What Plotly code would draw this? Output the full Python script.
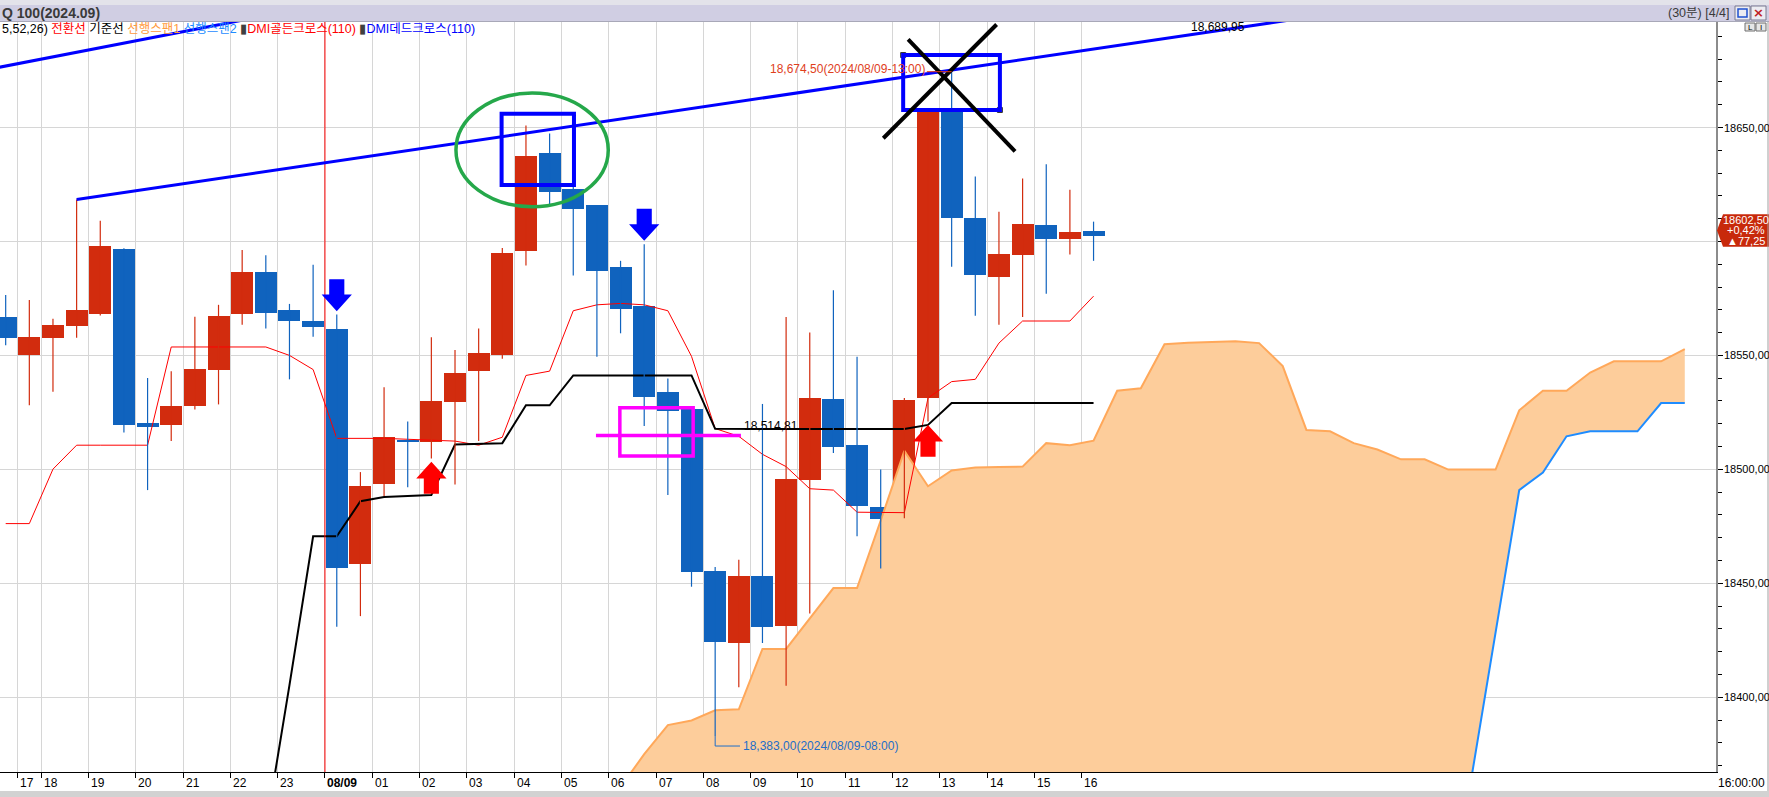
import plotly.graph_objects as go

# ---------------- data (30-minute candles, index 0 = 08/09 00:00) ----------------
candle_idx = list(range(-14, 33))
opens = [18566.8, 18550.0, 18557.7, 18563.1, 18568.3, 18596.7, 18520.3, 18519.3, 18527.6, 18543.8, 18568.3, 18586.6, 18569.8, 18565.1,
         18561.6, 18458.4, 18493.4, 18512.8, 18511.9, 18529.4, 18543.3, 18550.0, 18596.0, 18638.6, 18622.9, 18615.8, 18588.7, 18571.9, 18533.9, 18526.6, 18455.2,
         18423.8, 18453.4, 18431.3, 18495.2, 18530.9, 18510.9, 18483.6, 18478.6, 18531.1, 18657.5, 18610.2, 18584.6, 18594.1, 18607.2, 18601.2, 18604.4]
highs = [18576.5, 18574.3, 18566.1, 18618.4, 18609.1, 18597.0, 18540.1, 18543.1, 18567.0, 18572.2, 18596.2, 18593.9, 18572.6, 18589.8,
         18567.9, 18498.8, 18536.0, 18521.0, 18558.0, 18552.4, 18561.8, 18597.1, 18650.9, 18647.4, 18624.5, 18616.0, 18591.5, 18598.8, 18539.9, 18527.0, 18457.1,
         18460.3, 18528.7, 18566.8, 18560.0, 18578.6, 18549.4, 18499.9, 18531.3, 18658.0, 18674.5, 18628.5, 18613.0, 18627.6, 18633.9, 18622.7, 18608.7]
lows = [18554.5, 18528.1, 18534.1, 18557.7, 18567.5, 18516.2, 18490.9, 18512.4, 18526.3, 18528.5, 18563.5, 18561.8, 18539.5, 18558.2,
        18430.9, 18435.6, 18488.3, 18492.2, 18504.8, 18493.4, 18512.4, 18548.5, 18589.4, 18616.2, 18585.1, 18549.4, 18559.7, 18519.0, 18488.7, 18448.5, 18383.0,
        18404.4, 18423.8, 18405.1, 18436.7, 18507.2, 18470.6, 18456.5, 18478.6, 18521.0, 18588.9, 18567.4, 18563.5, 18566.8, 18577.1, 18594.3, 18591.5]
closes = [18557.7, 18558.0, 18563.3, 18569.8, 18598.0, 18519.3, 18518.8, 18527.9, 18544.0, 18567.2, 18586.6, 18568.5, 18565.3, 18562.3,
          18456.7, 18492.8, 18514.3, 18511.9, 18530.0, 18542.3, 18551.1, 18594.9, 18637.3, 18621.8, 18614.3, 18587.2, 18570.4, 18531.9, 18525.5, 18454.9, 18424.2,
          18453.4, 18430.9, 18495.8, 18531.3, 18509.6, 18483.8, 18478.2, 18530.4, 18656.7, 18610.4, 18585.5, 18594.3, 18607.6, 18601.2, 18604.0, 18602.5]

# Ichimoku lines
tenkan = [18476.2, 18476.2, 18500.1, 18510.6, 18510.6, 18510.6, 18510.6, 18553.7, 18553.7, 18553.7, 18553.7, 18553.7, 18550.0, 18543.8,
          18513.6, 18513.6, 18513.6, 18513.2, 18512.8, 18512.4, 18510.6, 18514.1, 18541.2, 18543.1, 18569.6, 18572.2, 18572.8, 18572.2, 18569.6, 18549.6, 18517.9,
          18514.5, 18506.6, 18501.2, 18491.5, 18490.9, 18481.2, 18481.2, 18481.0, 18531.3, 18538.5, 18539.5, 18555.4, 18565.1, 18565.1, 18565.1, 18576.0]
kijun = [18245.0, 18245.0, 18249.9, 18265.0, 18269.0, 18278.0, 18278.8, 18288.7, 18288.7, 18315.3, 18342.1, 18342.1, 18405.3, 18470.6,
         18470.6, 18486.0, 18487.9, 18488.3, 18488.7, 18510.9, 18511.3, 18511.5, 18528.1, 18528.1, 18541.2, 18541.2, 18541.2, 18541.2, 18541.2, 18541.2, 18517.8,
         18517.7, 18517.7, 18517.7, 18517.7, 18517.7, 18517.7, 18517.7, 18517.7, 18519.5, 18529.1, 18529.1, 18529.1, 18529.1, 18529.1, 18529.1, 18529.1]

span_idx = list(range(11, 58))
span1 = [18360.6, 18360.6, 18375.0, 18387.8, 18389.8, 18394.3, 18394.7, 18421.2, 18421.2, 18434.5, 18447.9, 18447.9, 18477.5, 18508.1,
         18492.6, 18499.5, 18500.8, 18501.0, 18501.2, 18511.5, 18510.6, 18512.6, 18534.5, 18535.6, 18554.9, 18555.6, 18556.0, 18556.2,
         18555.4, 18545.3, 18517.3, 18516.7, 18511.5, 18508.7, 18504.4, 18504.4, 18499.9, 18499.9, 18499.9, 18525.9, 18534.5, 18534.5,
         18542.5, 18547.4, 18547.4, 18547.4, 18552.8]
span2 = [18290.0, 18290.0, 18290.0, 18292.0, 18292.0, 18295.0, 18295.0, 18295.0, 18298.0, 18298.0, 18298.0, 18300.0, 18300.0, 18300.0,
         18300.0, 18300.0, 18302.0, 18302.0, 18302.0, 18302.0, 18305.0, 18305.0, 18305.0, 18305.0, 18305.0, 18305.0, 18305.0, 18305.0,
         18305.0, 18305.0, 18305.0, 18305.0, 18305.0, 18305.0, 18305.0, 18305.0, 18305.0, 18366.0, 18428.7, 18490.9, 18498.6, 18514.5,
         18516.7, 18516.7, 18516.7, 18529.1, 18529.1]

hour_tick_candle = [-14, -13, -12, -10, -8, -6, -4, -2, 0, 2, 4, 6, 8, 10, 12, 14, 16, 18, 20, 22, 24, 26, 28, 30, 32]
hour_tick_labels = ["16", "17", "18", "19", "20", "21", "22", "23", "<b>08/09</b>", "01", "02", "03", "04", "05", "06", "07",
                    "08", "09", "10", "11", "12", "13", "14", "15", "16"]
price_ticks = [18400, 18450, 18500, 18550, 18600, 18650]
price_tick_labels = ["18400,00", "18450,00", "18500,00", "18550,00", "18600,00", "18650,00"]

dead_cross_idx = [0, 13]      # DMI dead cross (blue down arrows)
golden_cross_idx = [4, 25]    # DMI golden cross (red up arrows)

hi_mark = (26, 18674.50, "18,674,50(2024/08/09-13:00)")
lo_mark = (16, 18383.00, "18,383,00(2024/08/09-08:00)")
level_line = 18514.81
level_text = "18,514,81"
trend_value_text = "18,689,95"
last_tag = ["18602,50", "+0,42%", "▲77,25"]

# user drawings (x in candle index, y in price)
trend_a = [(-11, 18618.4), (35.6, 18689.95)]
trend_b = [(-14.24, 18676.5), (-4.09, 18696.9)]
green_ellipse = [5.04, 11.48, 18615.2, 18665.1]
blue_box1 = [6.97, 10.03, 18624.8, 18656.0]
blue_box2 = [23.95, 28.04, 18657.7, 18681.8]
cross_a = [(24.16, 18688.7), (28.68, 18639.5)]
cross_b = [(23.11, 18645.3), (27.90, 18695.2)]
magenta_line = [10.96, 17.09]
magenta_box = [11.97, 15.07, 18505.9, 18527.0]

# ---------------- style ----------------
RED = '#D22C0E'
BLUE = '#1063BE'
NARROW = "Liberation Sans Narrow, Arial Narrow, Liberation Sans, sans-serif"
KFONT = "Liberation Sans, Noto Sans CJK KR, sans-serif"
XMIN, XMAX = -14.24, 58.32
YMIN, YMAX = 18367.2, 18696.3
PW, PT, PB = 1716.0, 22.0, 772.0
PH = PB - PT
PX_PER_PT = PH / (YMAX - YMIN)
X0_PX, STEP_PX = 325.0, 23.65   # pixel of the 08/09 boundary, pixels per candle (for out-of-range label)


def pxx(p):
    return p / PW


def pxy(p):
    return (PB - p) / PH


fig = go.Figure()

# cloud
fig.add_trace(go.Scatter(x=span_idx, y=span2, mode='lines', line=dict(width=0, color='rgba(0,0,0,0)'),
                         hoverinfo='skip'))
fig.add_trace(go.Scatter(x=span_idx, y=span1, mode='lines', fill='tonexty', fillcolor='#FDCD9B',
                         line=dict(color='#FFA85A', width=2), hoverinfo='skip'))
fig.add_trace(go.Scatter(x=span_idx, y=span2, mode='lines', line=dict(color='#1E8CFF', width=2),
                         hoverinfo='skip'))

# tenkan / kijun
fig.add_trace(go.Scatter(x=candle_idx, y=tenkan, mode='lines', line=dict(color='#FF0000', width=1),
                         hoverinfo='skip'))
fig.add_trace(go.Scatter(x=candle_idx, y=kijun, mode='lines', line=dict(color='#000000', width=2),
                         hoverinfo='skip'))

# candles
for up, col in ((True, RED), (False, BLUE)):
    sel = [k for k in range(len(candle_idx)) if (closes[k] >= opens[k]) == up]
    wx, wy = [], []
    for k in sel:
        wx += [candle_idx[k], candle_idx[k], None]
        wy += [lows[k], highs[k], None]
    fig.add_trace(go.Scatter(x=wx, y=wy, mode='lines', line=dict(color=col, width=1.2), hoverinfo='skip'))
    fig.add_trace(go.Bar(x=[candle_idx[k] for k in sel],
                         base=[min(opens[k], closes[k]) for k in sel],
                         y=[max(abs(closes[k] - opens[k]), 0.8) for k in sel],
                         width=0.93, marker=dict(color=col, line=dict(width=0)), hoverinfo='skip'))

shapes = []
annotations = []

# day separator
shapes.append(dict(type='line', xref='x', yref='paper', x0=-0.5, x1=-0.5, y0=0, y1=1,
                   line=dict(color='#FF0000', width=1), layer='above'))


def line_through(p1, p2, x_end0, x_end1):
    s = (p2[1] - p1[1]) / (p2[0] - p1[0])
    return (x_end0, p1[1] + s * (x_end0 - p1[0])), (x_end1, p1[1] + s * (x_end1 - p1[0]))


a0, a1 = line_through(trend_a[0], trend_a[1], trend_a[0][0], 45)
shapes.append(dict(type='line', xref='x', yref='y', x0=a0[0], y0=a0[1], x1=a1[0], y1=a1[1],
                   line=dict(color='#0000FF', width=3)))
b0, b1 = line_through(trend_b[0], trend_b[1], -16, 0)
shapes.append(dict(type='line', xref='x', yref='y', x0=b0[0], y0=b0[1], x1=b1[0], y1=b1[1],
                   line=dict(color='#0000FF', width=3)))

shapes.append(dict(type='circle', xref='x', yref='y', x0=green_ellipse[0], x1=green_ellipse[1],
                   y0=green_ellipse[2], y1=green_ellipse[3], line=dict(color='#25A84A', width=3.5)))
for bx in (blue_box1, blue_box2):
    shapes.append(dict(type='rect', xref='x', yref='y', x0=bx[0], x1=bx[1], y0=bx[2], y1=bx[3],
                       line=dict(color='#0000FF', width=4)))
for cl in (cross_a, cross_b):
    shapes.append(dict(type='line', xref='x', yref='y', x0=cl[0][0], y0=cl[0][1], x1=cl[1][0], y1=cl[1][1],
                       line=dict(color='#000000', width=4)))
shapes.append(dict(type='line', xref='x', yref='y', x0=magenta_line[0], x1=magenta_line[1],
                   y0=level_line, y1=level_line, line=dict(color='#FF00FF', width=3.5)))
shapes.append(dict(type='rect', xref='x', yref='y', x0=magenta_box[0], x1=magenta_box[1],
                   y0=magenta_box[2], y1=magenta_box[3], line=dict(color='#FF00FF', width=3.5)))

# handles on the selected box
fig.add_trace(go.Scatter(x=[blue_box2[0], blue_box2[1]], y=[blue_box2[3], blue_box2[2]], mode='markers',
                         marker=dict(symbol='square', size=5, color='#8A8A8A', line=dict(color='#333333', width=1)),
                         hoverinfo='skip'))


# signal arrows
def arrow_path(xc, tip, down):
    total, head, hw, sw = 14.0, 7.3, 0.64, 0.32
    sgn = 1 if down else -1
    top = tip + sgn * total
    mid = tip + sgn * head
    pts = [(xc - sw, top), (xc + sw, top), (xc + sw, mid), (xc + hw, mid), (xc, tip), (xc - hw, mid), (xc - sw, mid)]
    return "M " + " L ".join("%.3f,%.3f" % p for p in pts) + " Z"


for i in dead_cross_idx:
    k = candle_idx.index(i)
    shapes.append(dict(type='path', xref='x', yref='y', path=arrow_path(i, highs[k] + 1.5, True),
                       fillcolor='#0000FF', line=dict(width=0)))
for i in golden_cross_idx:
    k = candle_idx.index(i)
    shapes.append(dict(type='path', xref='x', yref='y', path=arrow_path(i, lows[k] - 1.5, False),
                       fillcolor='#FF0000', line=dict(width=0)))

# high / low markers
shapes.append(dict(type='line', xref='x', yref='y', x0=hi_mark[0] - 1.05, x1=hi_mark[0], y0=hi_mark[1], y1=hi_mark[1],
                   line=dict(color='#E0401C', width=1)))
annotations.append(dict(x=hi_mark[0] - 1.05, y=hi_mark[1] + 1.0, xref='x', yref='y', text=hi_mark[2],
                        showarrow=False, xanchor='right', yanchor='middle',
                        font=dict(family=NARROW, size=12, color='#E0401C')))
shapes.append(dict(type='line', xref='x', yref='y', x0=lo_mark[0], x1=lo_mark[0], y0=lo_mark[1], y1=lo_mark[1] - 4.4,
                   line=dict(color='#1E6EC8', width=1)))
shapes.append(dict(type='line', xref='x', yref='y', x0=lo_mark[0], x1=lo_mark[0] + 1.05, y0=lo_mark[1] - 4.4,
                   y1=lo_mark[1] - 4.4, line=dict(color='#1E6EC8', width=1)))
annotations.append(dict(x=lo_mark[0] + 1.08, y=lo_mark[1] - 4.4, xref='x', yref='y', text=lo_mark[2],
                        showarrow=False, xanchor='left', yanchor='middle',
                        font=dict(family=NARROW, size=12, color='#1E6EC8')))
annotations.append(dict(x=magenta_line[1] + 0.03, y=level_line + 4.0, xref='x', yref='y', text=level_text,
                        showarrow=False, xanchor='left', yanchor='middle',
                        font=dict(family=NARROW, size=12, color='#000000')))
annotations.append(dict(x=trend_a[1][0] + 0.45, y=pxy(27), xref='x', yref='paper', text=trend_value_text,
                        showarrow=False, xanchor='left', yanchor='middle',
                        font=dict(family=NARROW, size=12, color='#000000')))

# indicator legend line
legend_html = ('<span style="color:#000000">5,52,26)</span> '
               '<span style="color:#FF0000">전환선</span> '
               '<span style="color:#000000">기준선</span> '
               '<span style="color:#FF9A3C">선행스팬1</span> '
               '<span style="color:#1E8CFF">선행스팬2</span> '
               '<span style="color:#404040">▮</span>'
               '<span style="color:#FF0000">DMI골든크로스(110)</span> '
               '<span style="color:#404040">▮</span>'
               '<span style="color:#0000FF">DMI데드크로스(110)</span>')
annotations.append(dict(x=0, y=pxy(29), xref='paper', yref='paper', text=legend_html, showarrow=False,
                        xanchor='left', yanchor='middle', font=dict(family=KFONT, size=12.5)))

# x tick labels (left-aligned to the hour tick, as in the source chart)
for k, lab in zip(hour_tick_candle, hour_tick_labels):
    xt = k - 0.5
    if xt < XMIN:
        # first hour label sits partly outside the plot: place it in paper units
        annotations.append(dict(x=pxx(X0_PX + STEP_PX * xt + 0.5 + 0.5 * STEP_PX * 0), y=pxy(783), xref='paper',
                                yref='paper', text=lab, showarrow=False, xanchor='left', yanchor='middle',
                                font=dict(family=NARROW, size=12, color='black')))
        continue
    annotations.append(dict(x=xt, y=pxy(783), xref='x', yref='paper', text=lab, showarrow=False,
                            xanchor='left', yanchor='middle', xshift=0.5,
                            font=dict(family=NARROW, size=12, color='black')))
annotations.append(dict(x=pxx(1767), y=pxy(783), xref='paper', yref='paper', text='16:00:00', showarrow=False,
                        xanchor='right', yanchor='middle', font=dict(family=NARROW, size=12, color='black')))

# y tick labels (the 18600 label is hidden under the last-price tag in the source)
for v, lab in zip(price_ticks, price_tick_labels):
    if v == 18600:
        continue
    annotations.append(dict(x=pxx(1722), y=v, xref='paper', yref='y', text=lab, showarrow=False,
                            xanchor='left', yanchor='middle', font=dict(family=NARROW, size=11, color='black')))

# last price tag (pointed on the left)
last = closes[-1]
t_top = last + 21.5 / PX_PER_PT
t_bot = last - 11.0 / PX_PER_PT
t_mid = (t_top + t_bot) / 2
tag_path = ("M %.5f,%.3f L %.5f,%.3f L %.5f,%.3f L %.5f,%.3f L %.5f,%.3f Z" %
            (pxx(1717), t_mid, pxx(1723), t_top, pxx(1769), t_top, pxx(1769), t_bot, pxx(1723), t_bot))
shapes.append(dict(type='path', xref='paper', yref='y', path=tag_path, fillcolor='#C8290B', line=dict(width=0)))
for j, s in enumerate(last_tag):
    annotations.append(dict(x=pxx(1746), y=t_top - (5.6 + 10.6 * j) / PX_PER_PT, xref='paper', yref='y', text=s,
                            showarrow=False, xanchor='center', yanchor='middle',
                            font=dict(family='Liberation Sans, sans-serif', size=11, color='white')))

# window chrome
shapes.append(dict(type='rect', xref='paper', yref='paper', x0=-0.01, x1=1.05, y0=pxy(5), y1=pxy(-2),
                   fillcolor='#E3E3EA', line=dict(width=0), layer='below'))
shapes.append(dict(type='rect', xref='paper', yref='paper', x0=-0.01, x1=1.05, y0=pxy(21), y1=pxy(5),
                   fillcolor='#D0CEE3', line=dict(width=0), layer='below'))
shapes.append(dict(type='line', xref='paper', yref='paper', x0=-0.01, x1=1.05, y0=pxy(21.5), y1=pxy(21.5),
                   line=dict(color='#A8A8B8', width=1)))
shapes.append(dict(type='rect', xref='paper', yref='paper', x0=-0.01, x1=1.05, y0=pxy(798), y1=pxy(791),
                   fillcolor='#D2D2D2', line=dict(width=0), layer='below'))
shapes.append(dict(type='line', xref='paper', yref='paper', x0=pxx(1768), x1=pxx(1768), y0=pxy(791), y1=pxy(22),
                   line=dict(color='#A0A0A0', width=1)))
shapes.append(dict(type='rect', xref='paper', yref='paper', x0=pxx(1735), x1=pxx(1750), y0=pxy(20), y1=pxy(6),
                   fillcolor='#ECECF2', line=dict(color='#7A7A90', width=1)))
shapes.append(dict(type='rect', xref='paper', yref='paper', x0=pxx(1738), x1=pxx(1747), y0=pxy(17), y1=pxy(9),
                   fillcolor='rgba(0,0,0,0)', line=dict(color='#1E50D0', width=1.5)))
shapes.append(dict(type='rect', xref='paper', yref='paper', x0=pxx(1751), x1=pxx(1766), y0=pxy(20), y1=pxy(6),
                   fillcolor='#ECECF2', line=dict(color='#7A7A90', width=1)))
shapes.append(dict(type='rect', xref='paper', yref='paper', x0=pxx(1745), x1=pxx(1755), y0=pxy(31), y1=pxy(23),
                   fillcolor='#E6E6E6', line=dict(color='#707070', width=1)))
shapes.append(dict(type='rect', xref='paper', yref='paper', x0=pxx(1756), x1=pxx(1766), y0=pxy(31), y1=pxy(23),
                   fillcolor='#E6E6E6', line=dict(color='#707070', width=1)))
annotations.append(dict(x=pxx(1750), y=pxy(27), xref='paper', yref='paper', text='L', showarrow=False,
                        xanchor='center', yanchor='middle', font=dict(family='Liberation Sans', size=8, color='#000000')))
annotations.append(dict(x=pxx(1761), y=pxy(27), xref='paper', yref='paper', text='I', showarrow=False,
                        xanchor='center', yanchor='middle', font=dict(family='Liberation Sans', size=8, color='#000000')))
annotations.append(dict(x=pxx(1758.5), y=pxy(13), xref='paper', yref='paper', text='<b>×</b>', showarrow=False,
                        xanchor='center', yanchor='middle', font=dict(family='DejaVu Sans', size=13, color='#C02020')))
annotations.append(dict(x=0, y=pxy(13), xref='paper', yref='paper', text='<b>Q 100(2024.09)</b>', showarrow=False,
                        xanchor='left', yanchor='middle', font=dict(family='Liberation Sans, sans-serif', size=14, color='#3A3A3A')))
annotations.append(dict(x=pxx(1732), y=pxy(13), xref='paper', yref='paper', text='(30분) [4/4]', showarrow=False,
                        xanchor='right', yanchor='middle', font=dict(family=KFONT, size=12.5, color='#3A3A3A')))

fig.update_layout(
    width=1769, height=797,
    margin=dict(l=0, r=53, t=22, b=25, pad=0, autoexpand=False),
    plot_bgcolor='white', paper_bgcolor='white',
    showlegend=False, barmode='overlay', bargap=0,
    shapes=shapes, annotations=annotations,
    xaxis=dict(range=[XMIN, XMAX], tickmode='array', tickvals=[k - 0.5 for k in hour_tick_candle],
               showticklabels=False, automargin=False,
               showgrid=True, gridcolor='#D6D6D6', gridwidth=1, zeroline=False,
               showline=True, linecolor='black', linewidth=1, ticks='outside', ticklen=5, tickcolor='black',
               fixedrange=True),
    yaxis=dict(side='right', range=[YMIN, YMAX], tickmode='array', tickvals=price_ticks,
               showticklabels=False, automargin=False,
               showgrid=True, gridcolor='#D6D6D6', gridwidth=1, zeroline=False, showline=True,
               linecolor='#8C8C8C', linewidth=2, ticks='outside', ticklen=5, tickcolor='black',
               minor=dict(tickmode='linear', tick0=18400, dtick=10, ticks='outside', ticklen=4,
                          tickcolor='black', showgrid=False),
               fixedrange=True),
)

fig.write_html("out.html", config={'displayModeBar': False},
               post_script="document.body.style.margin='0px';document.body.style.overflow='hidden';")
